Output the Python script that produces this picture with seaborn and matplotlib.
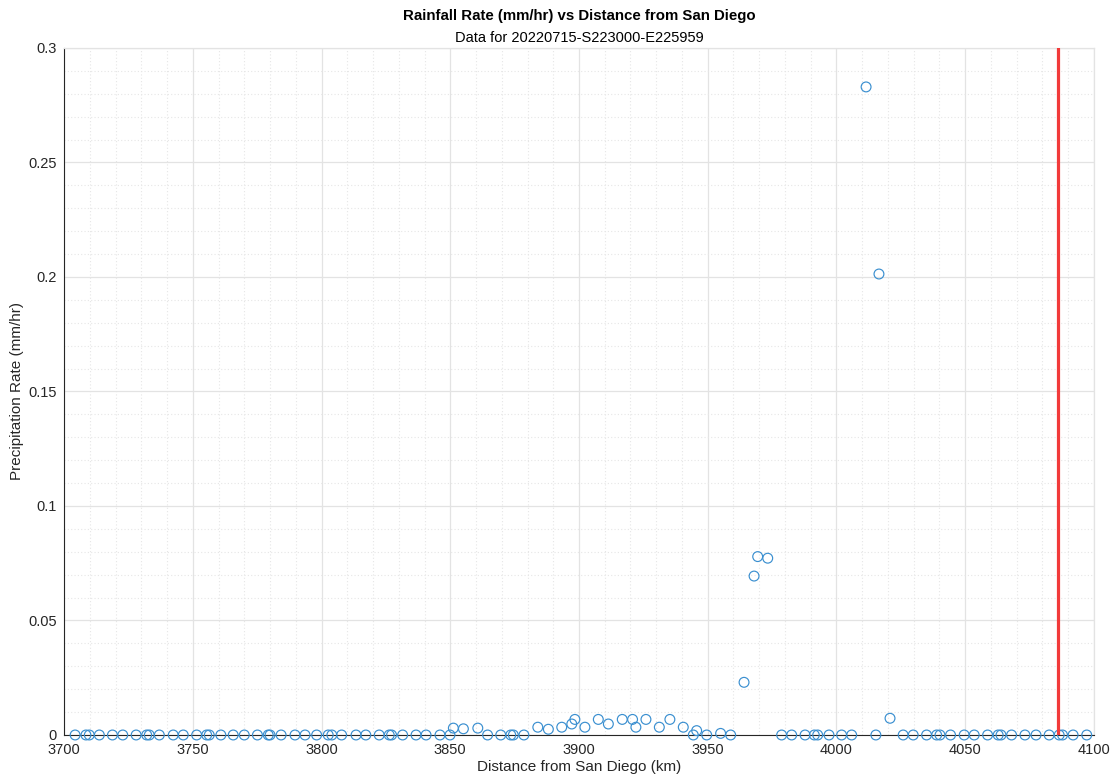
import numpy as np
import pandas as pd
import matplotlib
matplotlib.use("Agg")
import matplotlib.pyplot as plt
import seaborn as sns
from matplotlib.ticker import MultipleLocator

# Distance along track (km) and rain rate (mm/hr)
distance_km = [
    3704.3, 3708.5, 3709.8, 3713.7, 3718.8, 3722.8, 3728.0, 3732.1, 3733.1, 3737.0,
    3742.4, 3746.3, 3751.5, 3755.4, 3756.4, 3760.9, 3765.7, 3770.0, 3775.1, 3779.3,
    3780.0, 3784.3, 3789.7, 3793.6, 3798.1, 3802.6, 3804.0, 3807.8, 3813.4, 3817.2,
    3822.4, 3826.3, 3827.2, 3831.5, 3836.7, 3840.6, 3846.0, 3849.9, 3851.2, 3855.1,
    3860.7, 3864.5, 3869.6, 3873.5, 3874.5, 3878.6, 3884.0, 3888.1, 3893.3, 3897.2,
    3898.4, 3902.3, 3907.5, 3911.4, 3916.8, 3920.8, 3922.1, 3926.0, 3931.2, 3935.3,
    3940.5, 3944.4, 3945.7, 3949.6, 3955.0, 3958.9, 3964.1, 3968.0, 3969.4, 3973.3,
    3978.7, 3982.6, 3987.8, 3991.4, 3992.7, 3997.1, 4002.0, 4005.9, 4011.5, 4015.3,
    4016.5, 4020.8, 4025.9, 4029.8, 4035.0, 4038.9, 4040.2, 4044.3, 4049.6, 4053.5,
    4058.7, 4062.8, 4063.9, 4068.0, 4073.2, 4077.5, 4082.6, 4086.5, 4087.8, 4091.9,
    4097.2,
]
rain_rate = [
    0, 0, 0, 0, 0, 0, 0, 0, 0, 0,
    0, 0, 0, 0, 0, 0, 0, 0, 0, 0,
    0, 0, 0, 0, 0, 0, 0, 0, 0, 0,
    0, 0, 0, 0, 0, 0, 0, 0, 0.0030, 0.0027,
    0.0030, 0, 0, 0, 0, 0, 0.0034, 0.0025, 0.0034, 0.0048,
    0.0068, 0.0034, 0.0068, 0.0048, 0.0068, 0.0068, 0.0034, 0.0068, 0.0034, 0.0068,
    0.0034, 0, 0.0019, 0, 0.0007, 0, 0.0230, 0.0694, 0.0779, 0.0772,
    0, 0, 0, 0, 0, 0, 0, 0, 0.2830, 0,
    0.2013, 0.0073, 0, 0, 0, 0, 0, 0, 0, 0,
    0, 0, 0, 0, 0, 0, 0, 0, 0, 0,
    0,
]
marker_distance_km = [4086.2]

df = pd.DataFrame({"distance": distance_km, "rate": rain_rate})

sns.set_theme(style="white")
plt.rcParams["font.family"] = ["Liberation Sans", "DejaVu Sans"]

fig = plt.figure(figsize=(11.14, 7.79), dpi=100)
ax_left, ax_bottom, ax_w, ax_h = 0.0575, 0.0565, 0.9245, 0.8819
ax = fig.add_axes([ax_left, ax_bottom, ax_w, ax_h])

grid_color = "#e3e3e3"
ax.set_xlim(3700, 4100)
ax.set_ylim(0, 0.3)
ax.xaxis.set_major_locator(MultipleLocator(50))
ax.xaxis.set_minor_locator(MultipleLocator(10))
ax.yaxis.set_major_locator(MultipleLocator(0.05))
ax.yaxis.set_minor_locator(MultipleLocator(0.01))
ax.grid(True, which="major", color=grid_color, linewidth=0.9, linestyle="-")
ax.grid(True, which="minor", color="#e6e6e6", linewidth=0.8, linestyle=(0, (1, 2)))
ax.set_axisbelow(True)

sns.scatterplot(
    data=df, x="distance", y="rate", ax=ax,
    marker="o", s=50, facecolors="none", edgecolor="#3a8fd0",
    linewidth=0.85, legend=False, clip_on=False, zorder=3,
)
for xv in marker_distance_km:
    ax.axvline(xv, color="#f23a3a", linewidth=2.3, zorder=4)

ax.set_yticks(np.arange(0, 0.31, 0.05))
ax.set_yticklabels(["0", "0.05", "0.1", "0.15", "0.2", "0.25", "0.3"])
ax.set_xticks(np.arange(3700, 4101, 50))
ax.set_xticklabels([str(v) for v in range(3700, 4101, 50)])

for side in ["left", "bottom"]:
    ax.spines[side].set_color("#262626")
    ax.spines[side].set_linewidth(0.8)
for side in ["top", "right"]:
    ax.spines[side].set_color(grid_color)
    ax.spines[side].set_linewidth(0.9)

ax.tick_params(axis="both", which="major", direction="in", length=7, width=0.8,
               color="#262626", labelsize=10.5, labelcolor="#262626")
ax.tick_params(axis="x", which="major", pad=6)
ax.tick_params(axis="y", which="major", pad=5)
ax.tick_params(axis="both", which="minor", length=0)

ax.set_xlabel("Distance from San Diego (km)", fontsize=11, color="#262626", labelpad=2)
ax.set_ylabel("Precipitation Rate (mm/hr)", fontsize=11, color="#262626", labelpad=3)

x_center = ax_left + ax_w / 2
fig.text(x_center, 0.979, "Rainfall Rate (mm/hr) vs Distance from San Diego",
         ha="center", va="center", fontsize=10.8, fontweight="bold", color="black")
fig.text(x_center, 0.951, "Data for 20220715-S223000-E225959",
         ha="center", va="center", fontsize=10.5, color="black")

fig.savefig("out.png", dpi=100)
